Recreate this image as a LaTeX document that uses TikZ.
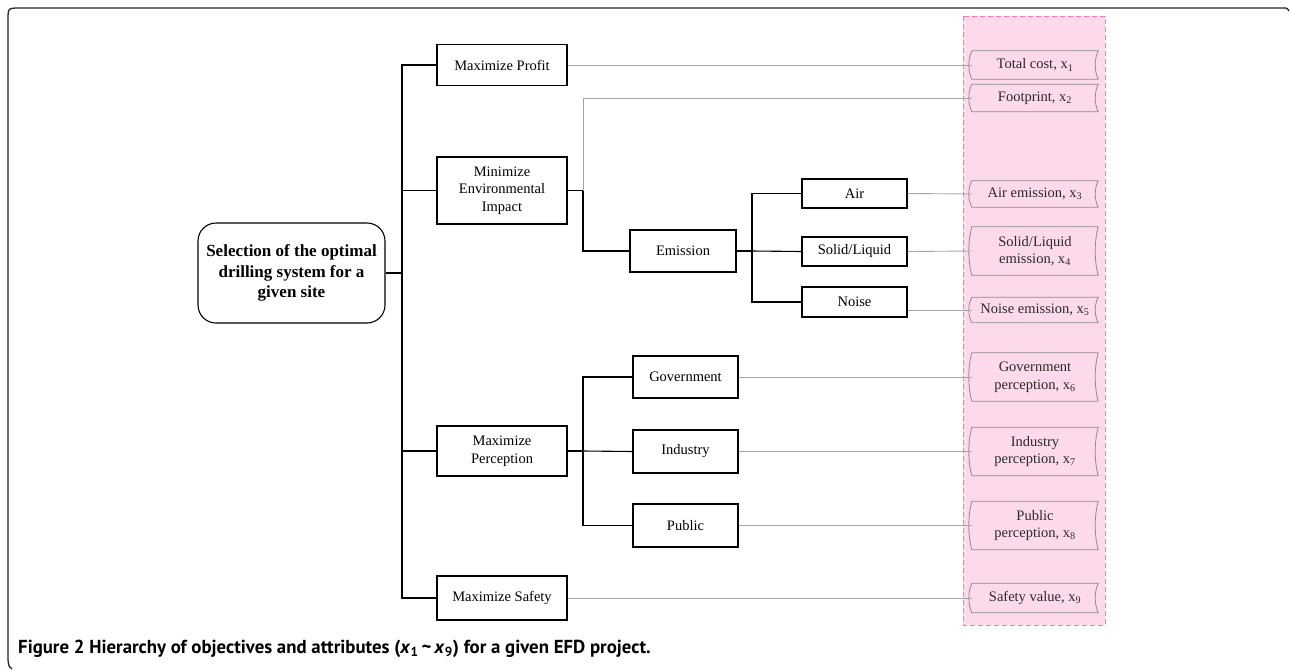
\documentclass[tikz,border=0pt]{standalone}
\usepackage{fontspec}
\setmainfont{Liberation Serif}
\newfontfamily\capfont{PT Sans}
\usetikzlibrary{calc}
\definecolor{pinkfill}{HTML}{FDD9EC}
\definecolor{pinkline}{HTML}{F07DB4}
\definecolor{attrline}{HTML}{8C8C8C}
\definecolor{greyconn}{HTML}{A6A6A6}
\definecolor{attrtext}{HTML}{2A2A2A}
\tikzset{
  boxtext/.style={font=\fontsize{14.5}{17.5}\selectfont, align=center},
  objbox/.style={boxtext, draw=black, line width=1.1pt, inner sep=2pt},
  rootbox/.style={draw=black, line width=1.1pt, rounded corners=18pt, align=center,
    font=\fontsize{17}{20.5}\selectfont\bfseries, minimum width=187pt, minimum height=100pt},
  attrbox/.style={boxtext, text=attrtext, minimum width=126pt, inner sep=1pt},
  conn/.style={draw=black, line width=1.1pt},
  gconn/.style={draw=greyconn, line width=0.9pt},
  attrborder/.style={draw=attrline, line width=0.8pt},
  frameline/.style={draw=black!85, line width=1.3pt},
}
\newcommand{\attrshape}[1]{%
  \draw[attrborder] (#1.north west) -- (#1.north east)
    .. controls ($(#1.north east)!0.3!(#1.south east)+(-4,0)$) and ($(#1.north east)!0.7!(#1.south east)+(-4,0)$) .. (#1.south east)
    -- (#1.south west)
    .. controls ($(#1.north west)!0.7!(#1.south west)+(-4,0)$) and ($(#1.north west)!0.3!(#1.south west)+(-4,0)$) .. (#1.north west) -- cycle;}
\begin{document}
\begin{tikzpicture}[x=1pt,y=-1pt]
\useasboundingbox (0,0) rectangle (1290,670);
% frame
\draw[frameline] (12,669) .. controls (9,667) .. (8,660) -- (8,20) .. controls (8,8) .. (20,8) -- (1283,8) .. controls (1287,8) .. (1289,11);
% pink region
\fill[pinkfill] (963,16) rectangle (1105,625);
\draw[pinkline, dashed, dash pattern=on 5pt off 3pt, line width=1pt] (963,16) rectangle (1105,625);

% root
\node[rootbox] (root) at (291.5,273) {Selection of the optimal\\drilling system for a\\given site};
\coordinate (tr) at (402,0);

% level 1
\node[objbox, minimum width=130pt, minimum height=41pt] (profit) at (502,65) {Maximize Profit};
\node[objbox, minimum width=130pt, minimum height=67pt] (env) at (502,190.5) {Minimize\\Environmental\\Impact};
\node[objbox, minimum width=130pt, minimum height=50pt] (perc) at (502,451) {Maximize\\Perception};
\node[objbox, minimum width=130pt, minimum height=44pt] (safety) at (502,598) {Maximize Safety};

% level 2
\node[objbox, minimum width=106pt, minimum height=42pt] (emis) at (683,251) {Emission};
\node[objbox, minimum width=105pt, minimum height=29pt] (air) at (854.5,193.5) {Air};
\node[objbox, minimum width=105pt, minimum height=29pt] (solid) at (854.5,251.5) {Solid/Liquid};
\node[objbox, minimum width=105pt, minimum height=30pt] (noise) at (854.5,302) {Noise};
\node[objbox, minimum width=105pt, minimum height=42pt] (gov) at (685.5,377) {Government};
\node[objbox, minimum width=105pt, minimum height=43pt] (ind) at (685.5,451.5) {Industry};
\node[objbox, minimum width=105pt, minimum height=43pt] (pub) at (685.5,525.5) {Public};

% attributes
\node[attrbox, minimum height=28pt] (a1) at (1035,65) {Total cost, x\textsubscript{1}};
\node[attrbox, minimum height=27pt] (a2) at (1035,98) {Footprint, x\textsubscript{2}};
\node[attrbox, minimum height=26pt] (a3) at (1035,194) {Air emission, x\textsubscript{3}};
\node[attrbox, minimum height=48pt] (a4) at (1035,251) {Solid/Liquid\\emission, x\textsubscript{4}};
\node[attrbox, minimum height=25pt] (a5) at (1035,310) {Noise emission, x\textsubscript{5}};
\node[attrbox, minimum height=48pt] (a6) at (1035,377) {Government\\perception, x\textsubscript{6}};
\node[attrbox, minimum height=48pt] (a7) at (1035,451.5) {Industry\\perception, x\textsubscript{7}};
\node[attrbox, minimum height=48pt] (a8) at (1035,525.5) {Public\\perception, x\textsubscript{8}};
\node[attrbox, minimum height=29pt] (a9) at (1035,598) {Safety value, x\textsubscript{9}};
\foreach \n in {a1,a2,a3,a4,a5,a6,a7,a8,a9} {\attrshape{\n}}

% black connectors
\draw[conn] (root.east) -- (root.east -| tr);
\draw[conn] (profit.west) -| (tr |- safety.west) -- (safety.west);
\draw[conn] (env.west) -- (env.west -| tr);
\draw[conn] (perc.west) -- (perc.west -| tr);
\coordinate (eb) at (583,190.5);
\draw[conn] (env.east) -- (eb) |- (emis.west);
\coordinate (mb) at (752,251);
\draw[conn] (emis.east) -- (mb);
\draw[conn] (air.west) -| (mb |- noise.west) -- (noise.west);
\draw[conn] (solid.west) -- (mb);
\coordinate (pb) at (583,451);
\draw[conn] (perc.east) -- (pb);
\draw[conn] (gov.west) -| (pb |- pub.west) -- (pub.west);
\draw[conn] (ind.west) -- (pb);

% grey connectors
\draw[gconn] (profit.east) -- (a1.west);
\draw[gconn] (eb) |- (a2.west);
\draw[gconn] (air.east) -- (a3.west);
\draw[gconn] (solid.east) -- (a4.west);
\draw[gconn] (noise.east |- a5.west) -- (a5.west);
\draw[gconn] (gov.east) -- (a6.west);
\draw[gconn] (ind.east) -- (a7.west);
\draw[gconn] (pub.east) -- (a8.west);
\draw[gconn] (safety.east) -- (a9.west);

% caption
\node[anchor=base west, inner sep=0pt, font=\capfont\fontsize{18.8}{22}\selectfont\bfseries] (cap) at (18,653)
  {Figure 2 Hierarchy of objectives and attributes (\textit{x}\textsubscript{1}\,\textasciitilde\,\textit{x}\textsubscript{9}) for a given EFD project.};
\end{tikzpicture}
\end{document}
